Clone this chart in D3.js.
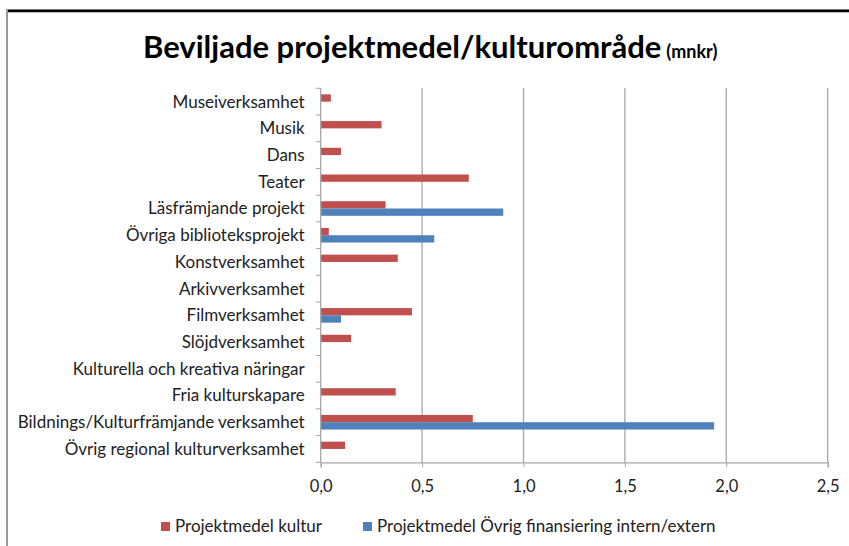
<!DOCTYPE html>
<html>
<head>
<meta charset="utf-8">
<script src="https://cdn.jsdelivr.net/npm/d3@7"></script>
<style>
  body { margin: 0; background: #fff; }
  svg text { font-family: Lato, "Open Sans", sans-serif; }
</style>
</head>
<body>
<svg id="chart" width="849" height="546"></svg>
<script>
var categories = ["Museiverksamhet", "Musik", "Dans", "Teater", "Läsfrämjande projekt",
  "Övriga biblioteksprojekt", "Konstverksamhet", "Arkivverksamhet", "Filmverksamhet",
  "Slöjdverksamhet", "Kulturella och kreativa näringar", "Fria kulturskapare",
  "Bildnings/Kulturfrämjande verksamhet", "Övrig regional kulturverksamhet"];
var kultur = [0.05, 0.30, 0.10, 0.73, 0.32, 0.04, 0.38, 0, 0.45, 0.15, 0, 0.37, 0.75, 0.12];
var ovrig  = [0, 0, 0, 0, 0.90, 0.56, 0, 0, 0.10, 0, 0, 0, 1.94, 0];
var seriesNames = ["Projektmedel kultur", "Projektmedel Övrig finansiering intern/extern"];
var seriesColors = ["#C0504D", "#4F81BD"];
var xTicks = [0, 0.5, 1, 1.5, 2, 2.5];

var svg = d3.select("#chart");
var plotLeft = 320.7, plotRight = 827.7, plotTop = 88.3, plotBottom = 462.3;
var fs = 16.5;

// frame of the screenshot
svg.append("line").attr("x1", 7).attr("x2", 7).attr("y1", 9).attr("y2", 546)
  .attr("stroke", "#999").attr("stroke-width", 2);
svg.append("line").attr("x1", 6).attr("x2", 849).attr("y1", 9.5).attr("y2", 9.5)
  .attr("stroke", "#999").attr("stroke-width", 1);
svg.append("line").attr("x1", 8).attr("x2", 849).attr("y1", 11).attr("y2", 11)
  .attr("stroke", "#000").attr("stroke-width", 2.5);

// title
var title = svg.append("text").attr("x", 143).attr("y", 58)
  .attr("font-weight", "bold").attr("fill", "#000");
title.append("tspan").attr("font-size", 31).text("Beviljade projektmedel/kulturområde");
title.append("tspan").attr("font-size", 18).attr("dx", 5).text("(mnkr)");

var x = d3.scaleLinear().domain([0, 2.5]).range([plotLeft, plotRight]);
var y = d3.scaleBand().domain(categories).range([plotTop, plotBottom]).paddingInner(0);
var ySub = d3.scaleBand().domain([0, 1]).range([0, y.bandwidth()]).paddingInner(0).paddingOuter(0.83);

// gridlines
svg.append("g").selectAll("line").data(xTicks.slice(1)).enter().append("line")
  .attr("x1", function(d) { return x(d); }).attr("x2", function(d) { return x(d); })
  .attr("y1", plotTop).attr("y2", plotBottom)
  .attr("stroke", "#a6a6a6").attr("stroke-width", 1.3);

// bars
var rows = categories.map(function(c, i) { return { cat: c, vals: [kultur[i], ovrig[i]] }; });
var groups = svg.append("g").selectAll("g").data(rows).enter().append("g")
  .attr("transform", function(d) { return "translate(0," + y(d.cat) + ")"; });
groups.selectAll("rect").data(function(d) { return d.vals; }).enter().append("rect")
  .attr("x", x(0))
  .attr("y", function(d, i) { return ySub(i); })
  .attr("height", ySub.bandwidth())
  .attr("width", function(d) { return x(d) - x(0); })
  .attr("fill", function(d, i) { return seriesColors[i]; });

// x axis
var xAxis = svg.append("g").attr("transform", "translate(0," + plotBottom + ")")
  .call(d3.axisBottom(x).tickValues(xTicks).tickSize(5).tickPadding(13)
    .tickFormat(function(d) { return d3.format(".1f")(d).replace(".", ","); }));
xAxis.select(".domain").attr("stroke", "#a6a6a6").attr("stroke-width", 1.3);
xAxis.selectAll(".tick line").attr("stroke", "#a6a6a6");
xAxis.selectAll("text").attr("font-size", fs).attr("fill", "#222").attr("font-family", "Lato");

// y axis with ticks at category boundaries
var yAxis = svg.append("g").attr("transform", "translate(" + plotLeft + ",0)");
yAxis.append("line").attr("y1", plotTop).attr("y2", plotBottom).attr("stroke", "#a6a6a6").attr("stroke-width", 1.3);
var bounds = categories.map(function(c) { return y(c); }).concat([plotBottom]);
yAxis.selectAll("line.tk").data(bounds).enter().append("line").attr("class", "tk")
  .attr("x1", -5).attr("x2", 0)
  .attr("y1", function(d) { return d; }).attr("y2", function(d) { return d; })
  .attr("stroke", "#a6a6a6");
yAxis.selectAll("text").data(categories).enter().append("text")
  .attr("x", -16)
  .attr("y", function(d) { return y(d) + y.bandwidth() / 2; })
  .attr("dy", "0.35em").attr("text-anchor", "end")
  .attr("font-size", 17).attr("fill", "#222")
  .text(function(d) { return d; });

// legend
var legendX = [161, 363];
var legend = svg.append("g").selectAll("g").data(seriesNames).enter().append("g")
  .attr("transform", function(d, i) { return "translate(" + legendX[i] + ",522)"; });
legend.append("rect").attr("width", 9).attr("height", 9)
  .attr("fill", function(d, i) { return seriesColors[i]; });
legend.append("text").attr("x", 14).attr("y", 4.5).attr("dy", "0.35em")
  .attr("font-size", fs + 0.5).attr("fill", "#222")
  .text(function(d) { return d; });
</script>
</body>
</html>
